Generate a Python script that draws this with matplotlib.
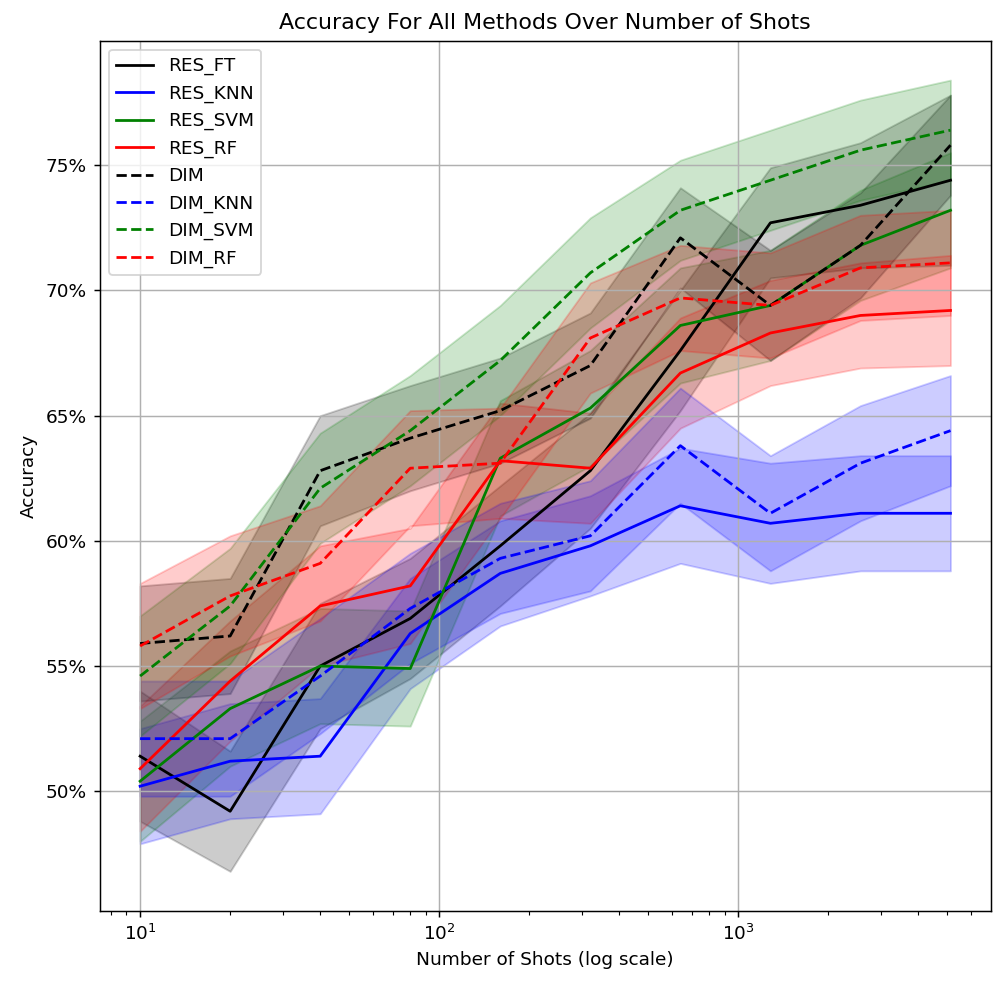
"accuracy vs number of shots, all methods"
import numpy as np
import matplotlib
matplotlib.use('Agg')
import matplotlib.pyplot as plt
from matplotlib.ticker import PercentFormatter

"shots"
shots = [10, 20, 40, 80, 160, 320, 640, 1280, 2560, 5120]

"mean accuracy (%)"
res_ft = [51.4, 49.2, 55.0, 56.9, 59.8, 62.8, 67.6, 72.7, 73.4, 74.4]
res_knn = [50.2, 51.2, 51.4, 56.3, 58.7, 59.8, 61.4, 60.7, 61.1, 61.1]
res_svm = [50.4, 53.3, 55.0, 54.9, 63.3, 65.3, 68.6, 69.4, 71.8, 73.2]
res_rf = [50.9, 54.4, 57.4, 58.2, 63.2, 62.9, 66.7, 68.3, 69.0, 69.2]
dim = [55.9, 56.2, 62.8, 64.1, 65.2, 67.0, 72.1, 69.4, 71.8, 75.8]
dim_knn = [52.1, 52.1, 54.6, 57.3, 59.3, 60.2, 63.8, 61.1, 63.1, 64.4]
dim_svm = [54.6, 57.4, 62.1, 64.4, 67.2, 70.7, 73.2, 74.4, 75.6, 76.4]
dim_rf = [55.8, 57.8, 59.1, 62.9, 63.1, 68.1, 69.7, 69.4, 70.9, 71.1]

"std (%)"
res_ft_std = [2.6, 2.4, 2.5, 2.4, 2.4, 2.3, 2.4, 2.2, 2.5, 3.4]
res_knn_std = [2.3, 2.3, 2.3, 2.2, 2.1, 2.0, 2.3, 2.4, 2.3, 2.3]
res_svm_std = [2.4, 2.3, 2.3, 2.3, 2.3, 2.3, 2.3, 2.2, 2.2, 2.3]
res_rf_std = [2.5, 2.4, 2.4, 2.3, 2.3, 2.2, 2.2, 2.1, 2.1, 2.2]
dim_std = [2.3, 2.3, 2.2, 2.1, 2.1, 2.1, 2.0, 2.2, 2.1, 2.0]
dim_knn_std = [2.3, 2.3, 2.3, 2.2, 2.2, 2.2, 2.3, 2.3, 2.3, 2.2]
dim_svm_std = [2.4, 2.3, 2.2, 2.2, 2.2, 2.2, 2.0, 2.0, 2.0, 2.0]
dim_rf_std = [2.5, 2.4, 2.3, 2.3, 2.2, 2.2, 2.1, 2.1, 2.1, 2.1]

methods = [
    ('RES_FT', res_ft, res_ft_std, 'k', '-'),
    ('RES_KNN', res_knn, res_knn_std, 'b', '-'),
    ('RES_SVM', res_svm, res_svm_std, 'g', '-'),
    ('RES_RF', res_rf, res_rf_std, 'r', '-'),
    ('DIM', dim, dim_std, 'k', '--'),
    ('DIM_KNN', dim_knn, dim_knn_std, 'b', '--'),
    ('DIM_SVM', dim_svm, dim_svm_std, 'g', '--'),
    ('DIM_RF', dim_rf, dim_rf_std, 'r', '--'),
]

fig = plt.figure(figsize=(996 / 133, 988 / 133), dpi=133)
ax = fig.add_axes([0.100, 0.078, 0.895, 0.881])

for name, m, s, c, ls in methods:
    m = np.array(m)
    s = np.array(s)
    ax.plot(shots, m, color=c, linestyle=ls, label=name)
    ax.fill_between(shots, m - s, m + s, color=c, alpha=0.2)

ax.set_xscale('log')
ax.yaxis.set_major_formatter(PercentFormatter(decimals=0))
ax.set_xlabel('Number of Shots (log scale)')
ax.set_ylabel('Accuracy')
ax.set_title('Accuracy For All Methods Over Number of Shots')
ax.grid(True)
ax.legend(loc='upper left')

fig.savefig('out.png', dpi=133)
